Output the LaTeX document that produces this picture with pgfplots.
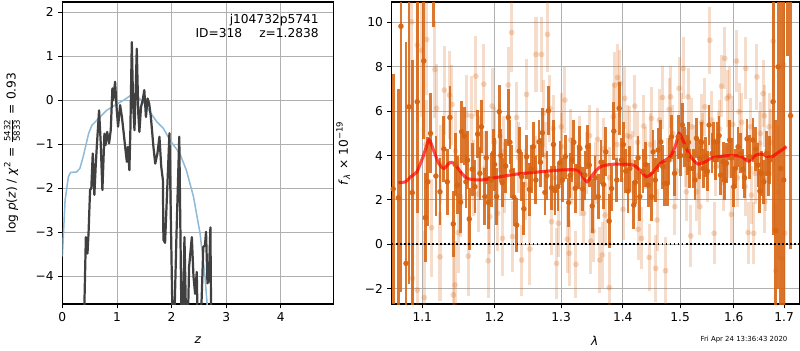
\documentclass[border=0pt]{standalone}
\usepackage{fontspec}
\setmainfont{DejaVu Sans}
\usepackage{pgfplots}
\pgfplotsset{compat=1.18}
\usepackage{pgfplotstable}

\definecolor{pzblue}{RGB}{143,187,217}
\definecolor{pzblack}{RGB}{64,64,64}
\definecolor{darkor}{RGB}{214,100,18}
\definecolor{gridc}{RGB}{176,176,176}

\pgfplotstableread{
x y e
1.0623 2.5 5.2
1.0688 2.1 4.9
1.0722 9.83 12
1.0787 -0.86 10
1.0826 6.2 8
1.0869 2.33 6
1.0934 6.43 5
1.1020 8.27 3.5
1.1041 1.2 2
1.1075 2.82 2
1.1110 5.0 1.8
1.1150 12.0 2.2
1.1182 3.08 1.8
1.1237 2.37 1.5
1.1290 4.3 1.5
1.1336 2.82 1.5
1.1372 5.72 1.4
1.1418 0.92 1.5
1.1445 3.6 1.4
1.1477 2.67 1.3
1.1520 1.9 1.4
1.1533 5.08 1.4
1.1570 4.88 1.3
1.1593 2.82 1.2
1.1615 3.8 1.3
1.1640 1.14 1.4
1.1682 3.39 1.2
1.1720 2.6 1.2
1.1757 4.97 1.1
1.1790 3.2 1.2
1.1813 5.3 1.2
1.1860 2.15 1.3
1.1880 3.9 1.2
1.1908 1.89 1.2
1.1950 2.9 1.2
1.1980 4.1 1.1
1.2000 3.6 1.2
1.2028 2.15 1.3
1.2067 5.98 1.2
1.2090 4.0 1.2
1.2111 2.78 1.1
1.2160 3.53 1.2
1.2199 5.72 1.3
1.2223 4.6 1.0
1.2250 3.3 1.2
1.2282 2.12 1.3
1.2322 0.87 1.2
1.2360 4.2 1.1
1.2397 3.05 1.1
1.2430 1.6 1.2
1.2471 3.95 1.0
1.2511 2.48 1.2
1.2540 3.4 1.1
1.2572 4.4 1.1
1.2610 2.9 1.1
1.2658 4.62 1.0
1.2680 3.7 1.1
1.2709 5.03 1.1
1.2749 2.34 1.0
1.2780 3.1 1.1
1.2801 6.02 1.1
1.2852 2.55 1.0
1.2880 4.5 1.1
1.2904 2.42 1.1
1.2950 2.6 1.1
1.2981 3.68 1.0
1.3020 2.9 1.0
1.3064 3.95 1.0
1.3117 1.88 1.1
1.3140 3.1 1.0
1.3170 3.80 1.0
1.3200 4.6 1.0
1.3222 2.52 1.1
1.3275 3.5 1.0
1.3296 4.32 1.0
1.3340 2.5 1.0
1.3377 3.12 1.1
1.3420 4.4 1.0
1.3447 3.57 1.0
1.3495 1.73 1.2
1.3540 3.0 1.0
1.3592 2.15 1.0
1.3640 3.7 1.0
1.3680 2.7 1.1
1.3718 4.17 1.1
1.3773 1.05 1.2
1.3812 2.52 1.0
1.3850 5.1 1.3
1.3900 2.9 1.0
1.3940 6.13 1.2
1.3980 3.8 1.0
1.4010 4.5 1.0
1.4050 3.3 1.0
1.4090 2.4 1.0
1.4119 3.42 1.0
1.4187 1.77 1.1
1.4215 2.8 1.0
1.4260 3.9 1.0
1.4290 2.15 1.1
1.4347 3.3 1.0
1.4390 3.6 1.0
1.4433 2.67 1.0
1.4491 2.15 1.1
1.4520 4.17 1.0
1.4560 2.9 1.0
1.4608 4.25 1.0
1.4655 4.62 1.0
1.4690 3.5 1.0
1.4726 2.75 1.0
1.4773 2.75 1.0
1.4800 3.8 1.0
1.4845 4.85 1.0
1.4900 3.2 1.0
1.4964 4.85 1.0
1.5010 4.0 0.9
1.5042 5.38 1.0
1.5085 4.4 0.9
1.5127 4.02 0.9
1.5150 4.6 0.9
1.5176 3.42 0.9
1.5237 3.42 0.9
1.5270 2.9 0.9
1.5298 4.78 0.9
1.5360 3.86 0.9
1.5390 4.6 0.9
1.5421 3.42 0.9
1.5471 3.95 0.9
1.5500 3.3 0.9
1.5532 5.38 0.9
1.5588 4.1 0.9
1.5620 4.62 0.9
1.5650 3.8 0.9
1.5689 4.62 0.9
1.5720 4.9 0.9
1.5746 3.12 0.9
1.5796 3.72 0.9
1.5830 2.9 0.9
1.5859 3.65 0.9
1.5922 4.7 0.9
1.5960 3.9 0.9
1.6000 2.6 0.9
1.6031 3.42 0.9
1.6083 4.4 0.9
1.6130 4.1 0.9
1.6180 3.38 0.9
1.6210 3.0 0.9
1.6258 4.75 0.9
1.6310 3.95 1.0
1.6376 4.7 1.0
1.6430 4.3 1.0
1.6475 3.57 1.0
1.6510 2.4 1.0
1.6541 3.2 1.0
1.6589 2.82 1.0
1.6643 4.1 1.0
1.6680 3.2 1.0
1.6710 3.8 1.1
1.6775 6.43 6
1.6830 0.62 5
1.6876 8.0 10
1.6929 3.42 8
1.6990 2.9 9
1.7060 11.5 3
1.7130 5.8 6
}\darktab

\pgfplotstableread{
x y e
1.0860 10.03 4
1.0934 8.98 3.5
1.0991 8.75 3
1.1058 9.23 2.5
1.1169 7.88 2.2
1.0873 -1.53 4
1.0934 -2.06 3.5
1.1026 -2.4 3
1.1125 0.75 2.2
1.1192 6.13 2
1.1237 -0.56 2
1.1295 6.95 2
1.1364 6.73 2
1.1400 6.3 1.8
1.1419 -2.28 2
1.1442 -1.83 2
1.1487 0.53 1.8
1.1519 2.15 1.8
1.1603 5.83 1.8
1.1626 -0.53 1.8
1.1673 5.78 1.8
1.1733 7.58 1.8
1.1766 2.27 1.7
1.1789 4.1 1.7
1.1846 7.22 1.8
1.1908 -0.74 1.7
1.1932 1.25 1.7
1.1965 6.23 1.7
1.2043 1.4 1.7
1.2077 4.88 1.6
1.2116 0.27 1.7
1.2136 4.17 1.6
1.2199 7.18 1.7
1.2248 9.55 1.8
1.2262 0.35 1.6
1.2322 5.72 1.6
1.2397 -0.71 1.6
1.2471 6.76 1.6
1.2521 -0.21 1.6
1.2612 8.56 1.7
1.2697 8.56 1.7
1.2723 5.9 1.5
1.2789 9.46 1.7
1.2825 6.13 1.5
1.2851 1.02 1.5
1.2877 5.22 1.5
1.2928 -0.86 1.6
1.2958 0.95 1.5
1.3006 4.4 1.5
1.3058 6.5 1.5
1.3095 0.23 1.5
1.3127 -0.4 1.5
1.3164 3.2 1.4
1.3233 -0.9 1.5
1.3285 4.4 1.4
1.3357 1.4 1.4
1.3401 3.68 1.4
1.3472 0.15 1.5
1.3510 0.6 1.4
1.3581 4.73 1.4
1.3620 -0.71 1.5
1.3658 -0.48 1.5
1.3704 1.32 1.4
1.3773 -1.95 1.6
1.3839 5.75 1.5
1.3867 7.18 1.5
1.3912 7.52 1.5
1.3952 7.25 1.5
1.4005 1.58 1.4
1.4034 6.58 1.4
1.4119 4.85 1.4
1.4205 6.23 1.4
1.4261 0.68 1.4
1.4319 0.27 1.4
1.4359 5.33 1.4
1.4451 -0.59 1.5
1.4491 5.68 1.4
1.4566 -1.08 1.5
1.4590 1.1 1.4
1.4685 6.62 1.4
1.4738 -1.19 1.5
1.4803 6.08 1.4
1.4828 6.65 1.4
1.4905 1.7 1.3
1.4982 7.03 1.4
1.5055 7.93 1.4
1.5113 2.37 1.3
1.5144 6.65 1.3
1.5193 0.38 1.4
1.5267 4.1 1.3
1.5298 2.37 1.3
1.5360 1.7 1.3
1.5391 5.48 1.3
1.5452 6.2 1.3
1.5545 9.2 1.5
1.5626 0.5 1.4
1.5701 4.73 1.3
1.5764 7.13 1.4
1.5828 8.38 1.4
1.5872 6.58 1.3
1.5909 6.68 1.3
1.5954 1.35 1.3
1.6051 8.26 1.4
1.6103 5.98 1.3
1.6232 7.93 1.4
1.6278 0.53 1.4
1.6343 2.22 1.3
1.6390 0.5 1.4
1.6452 7.55 1.5
1.6506 4.55 1.4
1.6573 6.8 1.5
1.6607 1.92 1.4
1.6694 5.3 1.5
1.6776 9.16 2.5
1.6831 -1.19 3
1.6875 2.34 3
1.6943 -0.63 3.5
1.6991 8.08 4
1.7011 0.5 4
1.1050 4.5 2
1.1250 3.6 1.8
1.1450 4.2 1.8
1.1700 3.0 1.7
1.1850 3.4 1.7
1.2000 4.6 1.6
1.2150 3.0 1.6
1.2350 3.9 1.6
1.2450 2.7 1.6
1.2600 3.4 1.5
1.2750 4.0 1.5
1.2900 3.0 1.5
1.3000 5.3 1.5
1.3150 4.7 1.4
1.3300 2.7 1.4
1.3450 4.9 1.4
1.3550 3.2 1.4
1.3680 4.3 1.4
1.3780 3.0 1.4
1.3900 4.5 1.4
1.4080 4.9 1.4
1.4160 3.7 1.4
1.4250 4.6 1.4
1.4380 3.9 1.4
1.4470 4.5 1.4
1.4550 3.3 1.4
1.4630 5.6 1.4
1.4770 3.5 1.3
1.4870 5.0 1.3
1.4940 3.3 1.3
1.5020 5.5 1.3
1.5100 3.9 1.3
1.5210 5.3 1.3
1.5330 3.1 1.3
1.5410 4.6 1.3
1.5500 3.2 1.3
1.5580 5.6 1.3
1.5660 3.5 1.3
1.5730 5.2 1.3
1.5800 2.8 1.3
1.5900 4.3 1.3
1.5980 5.4 1.3
1.6070 3.0 1.3
1.6150 5.5 1.3
1.6220 2.6 1.3
1.6330 5.3 1.3
1.6420 3.2 1.4
1.6520 5.0 1.4
1.6620 2.9 1.4
1.6600 5.8 1.4
1.6730 4.6 1.5
}\lighttab

\pgfplotsset{
  mystyle/.style={
    scale only axis,
    axis line style={line width=0.9pt},
    grid=major,
    grid style={gridc, line width=0.7pt},
    tick align=outside,
    xtick pos=bottom, ytick pos=left,
    major tick length=3.2pt,
    tick style={black, line width=0.7pt},
    /pgf/number format/assume math mode=true,
    ticklabel style={font=\fontsize{8.8}{10}\selectfont},
    label style={font=\fontsize{8.8}{10}\selectfont},
  }
}

\begin{document}
\fontsize{8.8}{10.5}\selectfont
\begin{tikzpicture}
\useasboundingbox (0,0) rectangle (576pt,252pt);

% ---------------- left panel: p(z) ----------------
\begin{axis}[mystyle,
  at={(44.9pt,33.1pt)}, anchor=south west,
  width=195.1pt, height=217.4pt,
  xmin=0, xmax=4.96, ymin=-4.63, ymax=2.23,
  xtick={0,1,2,3,4}, xticklabels={0,1,2,3,4},
  ytick={-4,-3,-2,-1,0,1,2},
  yticklabels={−4,−3,−2,−1,0,1,2},
  xlabel={\textit{z}},
  xlabel style={at={(axis description cs:0.5,-0.119)}, anchor=center},
  ylabel={log \textit{p}(\textit{z}) / \textit{χ}\textsuperscript{2} = $\frac{\mbox{\fontsize{6.2}{6.2}\selectfont 5432}}{\mbox{\fontsize{6.2}{6.2}\selectfont 5833}}$ = 0.93},
  ylabel style={at={(axis description cs:-0.186,0.5)}, anchor=center, rotate=0},
]
\addplot[pzblue, line width=1.1pt] coordinates {
(0,-3.55) (0.05,-2.27) (0.11,-1.74) (0.15,-1.64) (0.26,-1.63) (0.32,-1.55)
(0.38,-1.29) (0.48,-0.76) (0.54,-0.57) (0.69,-0.38) (0.81,-0.23) (0.99,-0.09)
(1.12,0.0) (1.24,0.10) (1.30,0.13) (1.36,0.09) (1.48,-0.04) (1.60,-0.26)
(1.73,-0.49) (1.85,-0.64) (1.97,-0.91) (2.15,-1.21) (2.27,-1.59) (2.40,-2.19)
(2.52,-3.02) (2.61,-4.0) (2.65,-4.63) (2.70,-5.3)
};
\addplot[pzblack, line width=1.6pt, line join=round] coordinates {
(0.38,-6) (0.43,-3.11) (0.46,-3.48) (0.48,-3.0) (0.507,-2.04) (0.53,-2.0)
(0.556,-1.21) (0.586,-2.15) (0.61,-1.5) (0.63,-1.06) (0.672,-0.23) (0.70,-0.91)
(0.733,-2.04) (0.77,-0.76) (0.79,-1.02) (0.82,-0.72) (0.855,-0.98) (0.886,-0.68)
(0.916,0.27) (0.93,0.0) (0.965,0.42) (0.996,-0.23) (1.02,-0.6) (1.057,-0.11)
(1.09,-0.38) (1.117,-0.68) (1.15,-1.06) (1.18,-1.40) (1.20,-1.06) (1.227,-1.59)
(1.245,-0.68) (1.271,1.32) (1.295,-0.08) (1.32,-0.68) (1.344,0.30) (1.362,1.17)
(1.39,-0.3) (1.41,-0.72) (1.44,-0.15) (1.47,0.0) (1.50,0.23) (1.53,-0.38)
(1.56,0.04) (1.59,-0.08) (1.62,-0.38) (1.667,-1.06) (1.70,-1.44) (1.74,-1.21)
(1.777,-0.83) (1.81,-1.51) (1.84,-1.81) (1.85,-3.17) (1.88,-3.24) (1.92,-2.0)
(1.96,-0.75) (2.03,-6) (2.09,-3.0) (2.14,-0.83) (2.19,-6) (2.235,-3.11)
(2.28,-6) (2.32,-3.78) (2.37,-3.11) (2.40,-4.0) (2.43,-4.4) (2.46,-3.9)
(2.49,-6) (2.55,-4.5) (2.58,-3.33) (2.61,-3.30) (2.63,-2.99) (2.656,-4.16)
(2.68,-4.1) (2.71,-2.89) (2.73,-6)
};
\node[anchor=north east, align=right, inner sep=0pt,
      font=\fontsize{8.8}{10.3}\selectfont]
  at (rel axis cs:0.947,0.962) {j104732p5741\\ID=318\hspace{1.4em}z=1.2838};
\end{axis}

% ---------------- right panel: spectrum ----------------
\begin{axis}[mystyle,
  at={(282.0pt,33.1pt)}, anchor=south west,
  width=293.5pt, height=217.4pt,
  xmode=log,
  xmin=1.0603, xmax=1.7313, ymin=-2.69, ymax=10.92,
  xtick={1.1,1.2,1.3,1.4,1.5,1.6,1.7},
  xticklabels={1.1,1.2,1.3,1.4,1.5,1.6,1.7},
  minor xtick={},
  ytick={-2,0,2,4,6,8,10},
  yticklabels={−2,0,2,4,6,8,10},
  xlabel={\textit{λ}},
  xlabel style={at={(axis description cs:0.498,-0.122)}, anchor=center},
  ylabel={\textit{f}\textsubscript{\textit{λ}} × 10\textsuperscript{−19}},
  ylabel style={at={(axis description cs:-0.119,0.5)}, anchor=center},
]
\addplot[color=darkor, only marks, mark=*, mark size=2.1pt,
  mark options={draw=darkor, fill=darkor, draw opacity=0, fill opacity=0.25},
  error bars/.cd, y dir=both, y explicit,
  error bar style={line width=2.2pt, color=darkor, draw opacity=0.22},
  error mark=none]
  table[x=x, y=y, y error=e] {\lighttab};
\addplot[color=darkor, only marks, mark=*, mark size=2.0pt,
  mark options={draw=darkor, fill=darkor, draw opacity=0, fill opacity=0.95},
  error bars/.cd, y dir=both, y explicit,
  error bar style={line width=2.0pt, color=darkor, draw opacity=0.88},
  error mark=none]
  table[x=x, y=y, y error=e] {\darktab};
\addplot[red, opacity=0.7, line width=2.2pt, smooth, tension=0.4] coordinates {
(1.069,2.78) (1.078,2.82) (1.085,3.05) (1.093,3.27) (1.101,3.95) (1.109,4.70)
(1.115,4.25) (1.122,3.65) (1.129,3.42) (1.137,3.68) (1.143,3.65) (1.152,3.27)
(1.161,2.97) (1.18,2.90) (1.20,3.0) (1.228,3.15) (1.253,3.23) (1.30,3.35)
(1.325,3.35) (1.333,3.12) (1.341,2.82) (1.352,3.2) (1.363,3.5) (1.379,3.6)
(1.40,3.62) (1.418,3.57) (1.429,3.35) (1.44,3.05) (1.45,3.2) (1.465,3.65)
(1.482,3.95) (1.491,4.40) (1.498,5.0) (1.505,4.70) (1.515,4.10) (1.524,3.80)
(1.533,3.62) (1.546,3.72) (1.558,3.90) (1.58,3.98) (1.60,4.01) (1.615,3.95)
(1.629,3.75) (1.643,4.02) (1.655,4.07) (1.672,3.92) (1.685,4.10) (1.705,4.40)
};
\addplot[black, line width=1.4pt, dash pattern=on 1.3pt off 1.6pt]
  coordinates {(1.0603,0) (1.7313,0)};
\end{axis}

\node[anchor=east, inner sep=0pt, font=\fontsize{5}{6}\selectfont]
  at (567.1pt,7.7pt) {Fri Apr 24 13:36:43 2020};
\end{tikzpicture}
\end{document}
